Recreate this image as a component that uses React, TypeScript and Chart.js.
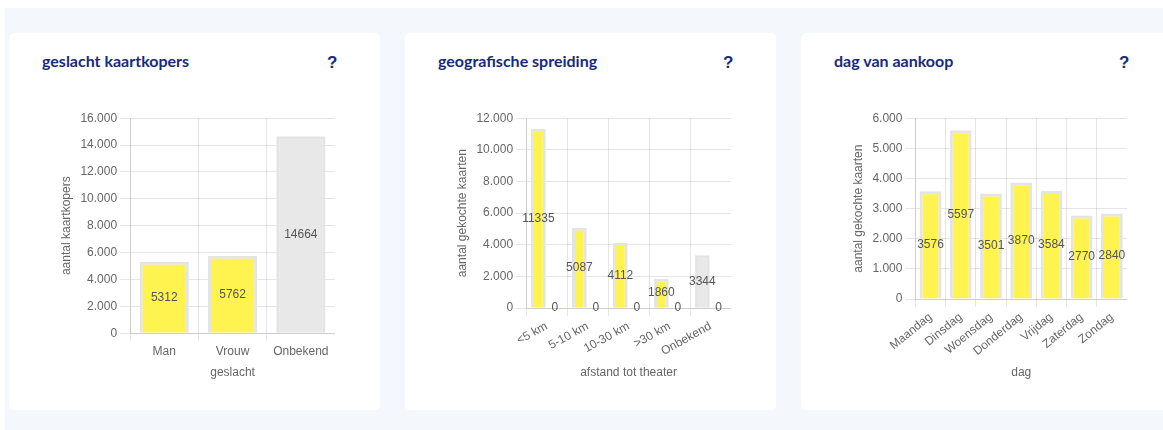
import React, { useEffect, useRef } from "react";
import { Chart, registerables } from "chart.js";

Chart.register(...registerables);

const YELLOW = "#fff350";
const GRAY = "#e8e8e8";
const BORDER = "#e4e4e4";

const genderLabels = ["Man", "Vrouw", "Onbekend"];
const genderValues = [5312, 5762, 14664];

const distanceLabels = ["<5 km", "5-10 km", "10-30 km", ">30 km", "Onbekend"];
const distanceValues = [11335, 5087, 4112, 1860, 3344];
const distanceZeros = [0, 0, 0, 0, 0];

const dayLabels = ["Maandag", "Dinsdag", "Woensdag", "Donderdag", "Vrijdag", "Zaterdag", "Zondag"];
const dayValues = [3576, 5597, 3501, 3870, 3584, 2770, 2840];

const FONT = "'Liberation Sans', Arial, sans-serif";

const fmt = (v: number) => String(v).replace(/\B(?=(\d{3})+(?!\d))/g, ".");

const valueLabels = {
  id: "valueLabels",
  afterDatasetsDraw(chart: any) {
    const ctx = chart.ctx;
    ctx.save();
    ctx.font = "12px " + FONT;
    ctx.fillStyle = "#555";
    ctx.textAlign = "center";
    ctx.textBaseline = "middle";
    chart.data.datasets.forEach((ds: any, di: number) => {
      const meta = chart.getDatasetMeta(di);
      meta.data.forEach((el: any, i: number) => {
        const y = (el.y + el.base) / 2;
        ctx.fillText(String(ds.data[i]), el.x, y);
      });
    });
    ctx.restore();
  },
};

type Cfg = {
  labels: string[];
  datasets: any[];
  max: number;
  step: number;
  yTitle: string;
  xTitle: string;
  rotation: number;
};

function BarChart({ cfg }: { cfg: Cfg }) {
  const ref = useRef<HTMLCanvasElement>(null);
  useEffect(() => {
    if (!ref.current) return;
    Chart.defaults.font.family = FONT;
    Chart.defaults.font.size = 12;
    Chart.defaults.color = "#666";
    const chart = new Chart(ref.current, {
      type: "bar",
      data: { labels: cfg.labels, datasets: cfg.datasets },
      options: {
        animation: false,
        responsive: false,
        maintainAspectRatio: false,
        plugins: { legend: { display: false }, tooltip: { enabled: false } },
        scales: {
          x: {
            title: { display: true, text: cfg.xTitle, color: "#666" },
            ticks: { minRotation: cfg.rotation, maxRotation: cfg.rotation, color: "#666" },
          },
          y: {
            min: 0,
            max: cfg.max,
            grid: { tickLength: 10 },
            ticks: {
              stepSize: cfg.step,
              callback: (v: any) => fmt(Number(v)),
              color: "#666",
            },
            title: { display: true, text: cfg.yTitle, color: "#666" },
          },
        },
      },
      plugins: [valueLabels],
    });
    return () => chart.destroy();
  }, []);
  return (
    <canvas
      ref={ref}
      width={280}
      height={276}
      style={{ position: "absolute", left: 46, top: 75, width: 280, height: 276 }}
    />
  );
}

function Card({ left, title, cfg }: { left: number; title: string; cfg: Cfg }) {
  return (
    <div
      style={{
        position: "absolute",
        left,
        top: 25,
        width: 371,
        height: 377,
        background: "#fff",
        borderRadius: 5,
      }}
    >
      <div
        style={{
          position: "absolute",
          left: 33,
          top: 18,
          fontFamily: "Lato, 'Noto Sans', sans-serif",
          fontWeight: 700,
          fontSize: 16,
          color: "#172a82",
        }}
      >
        {title}
      </div>
      <div
        style={{
          position: "absolute",
          left: 318,
          top: 20,
          fontFamily: FONT,
          fontWeight: 700,
          fontSize: 17,
          color: "#172a82",
        }}
      >
        ?
      </div>
      <BarChart cfg={cfg} />
    </div>
  );
}

export default function App() {
  const barBase = { borderWidth: 3, borderColor: BORDER };
  const c1: Cfg = {
    labels: genderLabels,
    datasets: [
      { ...barBase, data: genderValues, backgroundColor: [YELLOW, YELLOW, GRAY] },
    ],
    max: 16000,
    step: 2000,
    yTitle: "aantal kaartkopers",
    xTitle: "geslacht",
    rotation: 0,
  };
  const c2: Cfg = {
    labels: distanceLabels,
    datasets: [
      { ...barBase, data: distanceValues, backgroundColor: [YELLOW, YELLOW, YELLOW, YELLOW, GRAY] },
      { ...barBase, data: distanceZeros, backgroundColor: YELLOW },
    ],
    max: 12000,
    step: 2000,
    yTitle: "aantal gekochte kaarten",
    xTitle: "afstand tot theater",
    rotation: 29,
  };
  const c3: Cfg = {
    labels: dayLabels,
    datasets: [{ ...barBase, data: dayValues, backgroundColor: YELLOW }],
    max: 6000,
    step: 1000,
    yTitle: "aantal gekochte kaarten",
    xTitle: "dag",
    rotation: 39,
  };
  return (
    <div
      style={{
        position: "fixed",
        left: 5,
        top: 8,
        width: 1170,
        height: 430,
        background: "#f4f7fb",
        overflow: "hidden",
      }}
    >
      <Card left={4} title="geslacht kaartkopers" cfg={c1} />
      <Card left={400} title="geografische spreiding" cfg={c2} />
      <Card left={796} title="dag van aankoop" cfg={c3} />
    </div>
  );
}
